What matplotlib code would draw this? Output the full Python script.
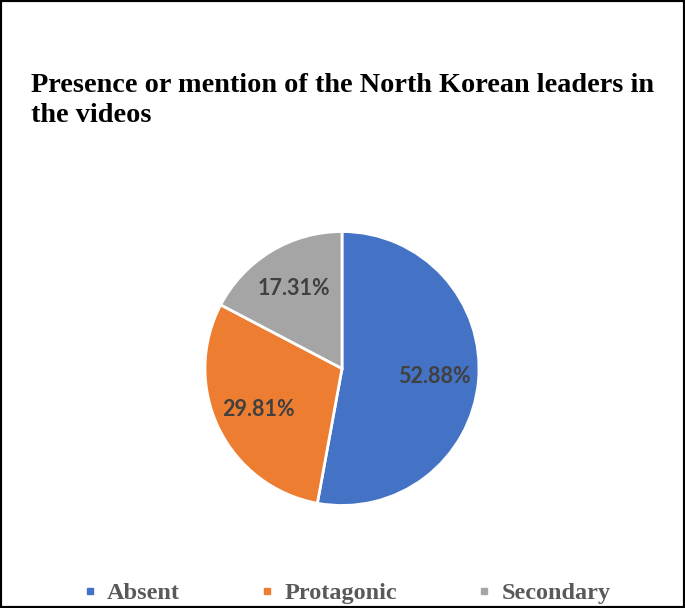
import matplotlib
matplotlib.use("Agg")
import matplotlib.pyplot as plt
from matplotlib.lines import Line2D
from matplotlib.patches import Rectangle

categories = ["Absent", "Protagonic", "Secondary"]
values = [52.88, 29.81, 17.31]
colors = ["#4472C4", "#ED7D31", "#A5A5A5"]
title = "Presence or mention of the North Korean leaders in\nthe videos"

W, H = 685, 608
fig = plt.figure(figsize=(W / 100, H / 100), dpi=100)
fig.patch.set_facecolor("white")

# border
fig.patches.append(Rectangle((0, 0), 1, 1, transform=fig.transFigure, fill=False,
                             edgecolor="black", linewidth=3.0, zorder=10))

# title
fig.text(31 / W, 1 - 73 / H, title, ha="left", va="top",
         fontsize=20.3, fontweight="bold", family="Liberation Serif",
         color="black", linespacing=1.28)

# pie
cx, cy, r = 342, 368.5, 137
ax = fig.add_axes([(cx - r) / W, (H - cy - r) / H, 2 * r / W, 2 * r / H])
wedges, texts, autotexts = ax.pie(
    values, colors=colors, startangle=90, counterclock=False,
    autopct=lambda p: f"{p:.2f}%", pctdistance=0.68,
    wedgeprops=dict(edgecolor="white", linewidth=2.0),
    textprops=dict(color="#404040", fontsize=15.5, fontweight="bold", family="Lato"))
ax.set_xlim(-1, 1)
ax.set_ylim(-1, 1)
ax.set_aspect("equal")
ax.axis("off")

# legend
handles = [Line2D([], [], linestyle="none", marker="s", markersize=5,
                  markerfacecolor=c, markeredgecolor=c) for c in colors]
fig.legend(handles, categories, loc="center", bbox_to_anchor=(347 / W, 15 / H),
           ncol=3, frameon=False, handlelength=0.5, handletextpad=0.45,
           columnspacing=3.35,
           prop=dict(family="Liberation Serif", weight="bold", size=17.5),
           labelcolor="#595959")

fig.savefig("out.png", dpi=100)
